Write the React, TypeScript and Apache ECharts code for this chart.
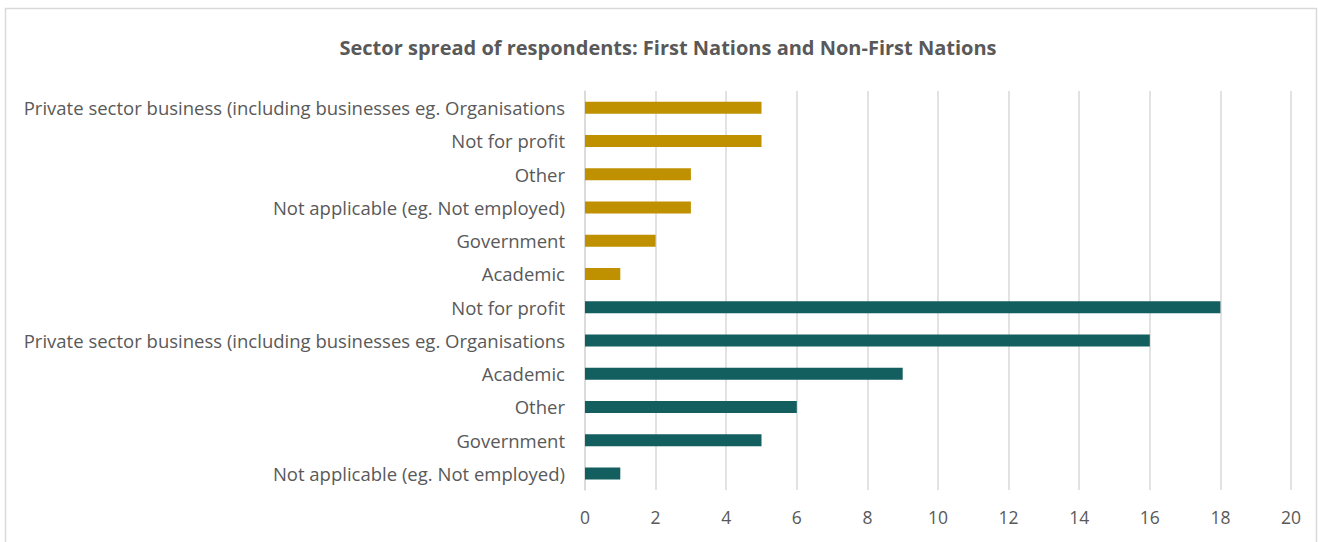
import React, { useEffect, useRef } from "react";
import * as echarts from "echarts";

// Categories listed bottom-to-top (ECharts category axis order)
const categoryLabels = [
  "Not applicable (eg. Not employed)",
  "Government",
  "Other",
  "Academic",
  "Private sector business (including businesses eg. Organisations",
  "Not for profit",
  "Academic",
  "Government",
  "Not applicable (eg. Not employed)",
  "Other",
  "Not for profit",
  "Private sector business (including businesses eg. Organisations",
];
const groupA = [1, 5, 6, 9, 16, 18, null, null, null, null, null, null];
const groupB = [null, null, null, null, null, null, 1, 2, 3, 3, 5, 5];
const xTicks = [0, 2, 4, 6, 8, 10, 12, 14, 16, 18, 20];
const title = "Sector spread of respondents: First Nations and Non-First Nations";

const FONT = "Open Sans, Noto Sans, sans-serif";

export default function App() {
  const ref = useRef<HTMLDivElement>(null);
  useEffect(() => {
    const chart = echarts.init(ref.current!, null, { renderer: "svg" });
    chart.setOption({
      animation: false,
      backgroundColor: "#ffffff",
      title: {
        text: title,
        left: 663,
        textAlign: "center",
        top: 32,
        textStyle: { fontFamily: FONT, fontSize: 20, fontWeight: "bold", color: "#595959" },
      },
      graphic: [
        {
          type: "rect",
          shape: { x: 5.5, y: 8.5, width: 1311, height: 600 },
          style: { fill: "none", stroke: "#d9d9d9", lineWidth: 1.5 },
          silent: true,
        },
      ],
      grid: { left: 585, right: 27, top: 91, bottom: 52, containLabel: false },
      xAxis: {
        type: "value",
        min: 0,
        max: 20,
        interval: 2,
        axisLine: { show: false },
        axisTick: { show: false },
        splitLine: { show: true, lineStyle: { color: "#d9d9d9", width: 1.5 } },
        axisLabel: {
          margin: 18,
          fontFamily: FONT,
          fontSize: 17.5,
          color: "#595959",
          formatter: (v: number) => (xTicks.includes(v) ? String(v) : ""),
        },
      },
      yAxis: {
        type: "category",
        data: categoryLabels.map((_, i) => String(i)),
        axisLine: { show: true, lineStyle: { color: "#d9d9d9", width: 1.5 } },
        axisTick: { show: false },
        axisLabel: {
          margin: 20,
          fontFamily: FONT,
          fontSize: 18.5,
          color: "#595959",
          formatter: (v: string) => categoryLabels[Number(v)],
        },
      },
      series: [
        {
          type: "bar",
          stack: "s",
          data: groupA,
          barWidth: 12,
          itemStyle: { color: "#135e5f" },
        },
        {
          type: "bar",
          stack: "s",
          data: groupB,
          barWidth: 12,
          itemStyle: { color: "#bf9000" },
        },
      ],
    });
    return () => chart.dispose();
  }, []);
  return (
    <div
      ref={ref}
      style={{ position: "absolute", left: 0, top: 0, width: 1318, height: 542 }}
    />
  );
}
